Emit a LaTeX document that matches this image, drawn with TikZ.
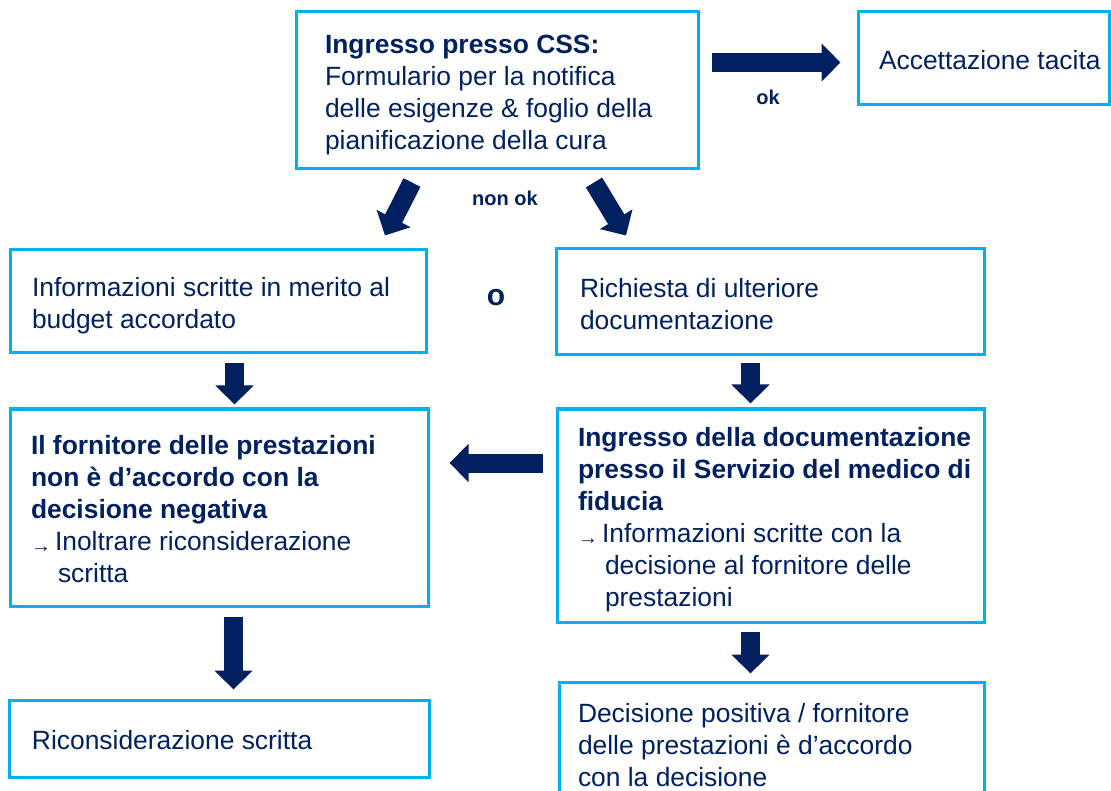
\documentclass[tikz,border=0pt]{standalone}
\usepackage{fontspec}
\setmainfont{Liberation Sans}
\usepackage{tikz}
\usetikzlibrary{arrows.meta, positioning, calc}

\definecolor{cssnavy}{RGB}{0, 32, 96}
\definecolor{cssblue}{RGB}{0, 176, 240}
\newcommand{\pfeil}{{\fontsize{20}{20}\selectfont\raisebox{-1.5pt}{→}}\hspace{4pt}}
% box text: width, left inset, lines
\newcommand{\boxtxt}[3]{\makebox[#1pt][l]{\hspace*{#2pt}\raisebox{-5pt}[\height][\depth]{\begin{tabular}{@{}l@{}}#3\end{tabular}}}}

\begin{document}
\begin{tikzpicture}[x=1pt, y=-1pt,
  box/.style={draw=cssblue, line width=3pt, inner xsep=0pt, inner ysep=0pt,
              text=cssnavy, font=\fontsize{26.4}{32}\selectfont},
  blk/.style={draw=cssnavy, line width=19pt, -{Triangle[length=19pt, width=37pt]}},
  lbl/.style={font=\fontsize{20}{24}\selectfont\bfseries, text=cssnavy},
]
\useasboundingbox (0,0) rectangle (1111,791);
\clip (0,0) rectangle (1111,791);

% Top row
\node[box, minimum height=157] (css) at (497, 90.5)
{\boxtxt{402}{29}{\textbf{Ingresso presso CSS:}\\Formulario per la notifica\\delle esigenze \& foglio della\\pianificazione della cura}};
\node[box, minimum height=93] (acc) at (983.5, 58.5)
{\boxtxt{251}{21}{Accettazione tacita}};

% Second row
\node[box, minimum height=103] (info) at (218, 301.5)
{\boxtxt{416}{22}{Informazioni scritte in merito al\\budget accordato}};
\node[box, minimum height=106] (rich) at (770, 302)
{\boxtxt{428}{24}{Richiesta di ulteriore\\documentazione}};

% Third row
\node[box, minimum height=197] (disac) at (219, 507.5)
{\boxtxt{418}{21}{\textbf{Il fornitore delle prestazioni}\\\textbf{non è d’accordo con la}\\\textbf{decisione negativa}\\\pfeil Inoltrare riconsiderazione\\\hspace*{27pt}scritta}};
\node[box, minimum height=213] (ingr) at (770.5, 515.5)
{\boxtxt{427}{21}{\textbf{Ingresso della documentazione}\\\textbf{presso il Servizio del medico di}\\\textbf{fiducia}\\\pfeil Informazioni scritte con la\\\hspace*{27pt}decisione al fornitore delle\\\hspace*{27pt}prestazioni}};

% Bottom row
\node[box, minimum height=77] (ricons) at (219, 738.5)
{\boxtxt{420}{23}{Riconsiderazione scritta}};
\node[box, minimum height=122] (posit) at (771.5, 743)
{\boxtxt{425}{19}{Decisione positiva / fornitore\\delle prestazioni è d’accordo\\con la decisione}};

% Block arrows
\draw[blk] ($(css.east)+(12,-28)$) -- ($(acc.west)+(-16,4)$);
\draw[blk] ($(css.south)+(-85,12)$) -- ($(info.north)+(167,-13)$);
\draw[blk] ($(css.south)+(97,12)$) -- ($(rich.north)+(-144,-12)$);
\draw[blk] ($(info.south)+(16.5,9)$) -- ($(disac.north)+(15.5,-3)$);
\draw[blk] ($(rich.south)+(-19.5,7)$) -- ($(ingr.north)+(-20,-4)$);
\draw[blk] ($(ingr.west)+(-12.5,-52.5)$) -- ($(disac.east)+(20,-44.5)$);
\draw[blk] ($(disac.south)+(14.5,9)$) -- ($(ricons.north)+(14.5,-9)$);
\draw[blk] ($(ingr.south)+(-20,8)$) -- ($(posit.north)+(-21,-7)$);

% Labels
\node[lbl] (ok) at (768, 97) {ok};
\node[lbl] (nonok) at (505, 198) {non ok};
\node[lbl, font=\fontsize{30}{30}\selectfont\bfseries] (oder) at (496, 298) {o};
\end{tikzpicture}
\end{document}
